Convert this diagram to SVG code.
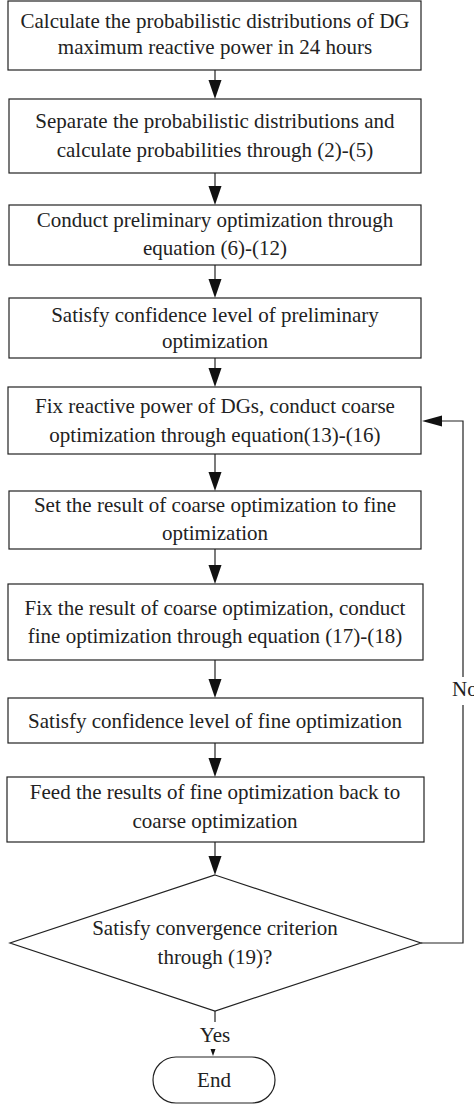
<svg xmlns="http://www.w3.org/2000/svg" width="474" height="1105" viewBox="0 0 474 1105">
<defs>
<style>
.box{fill:#fff;stroke:#222;stroke-width:1.2}
.t{font-family:'Liberation Serif','Times New Roman',serif;font-size:21px;fill:#222;text-anchor:middle}
.ln{fill:none;stroke:#222;stroke-width:1.2}
.ah{fill:#111}
</style>
</defs>
<rect width="474" height="1105" fill="#fff"/>
<g id="connectors">
<line class="ln" x1="215" y1="70" x2="215" y2="85"/><polygon class="ah" points="208.5,80 221.5,80 215,99"/>
<line class="ln" x1="215" y1="173" x2="215" y2="190"/><polygon class="ah" points="208.5,186 221.5,186 215,205"/>
<line class="ln" x1="215" y1="265" x2="215" y2="282"/><polygon class="ah" points="208.5,279 221.5,279 215,298"/>
<line class="ln" x1="215" y1="358" x2="215" y2="372"/><polygon class="ah" points="208.5,368 221.5,368 215,387"/>
<line class="ln" x1="215" y1="454" x2="215" y2="475"/><polygon class="ah" points="208.5,472 221.5,472 215,491"/>
<line class="ln" x1="215" y1="549" x2="215" y2="570"/><polygon class="ah" points="208.5,565 221.5,565 215,584"/>
<line class="ln" x1="215" y1="660" x2="215" y2="682"/><polygon class="ah" points="208.5,679 221.5,679 215,698"/>
<line class="ln" x1="215" y1="743" x2="215" y2="762"/><polygon class="ah" points="208.5,758 221.5,758 215,777"/>
<line class="ln" x1="215" y1="842" x2="215" y2="860"/><polygon class="ah" points="208.5,856 221.5,856 215,875"/>
<polyline class="ln" points="421,943 463,943 463,705"/>
<polyline class="ln" points="463,677 463,421 440,421"/>
<polygon class="ah" points="422,421 442,415.5 442,426.5"/>
<text class="t" x="452" y="696" style="text-anchor:start">No</text>
<line class="ln" x1="215" y1="1011" x2="215" y2="1022"/>
<text class="t" x="215" y="1042">Yes</text>
<polygon class="ah" points="210.5,1049 215.5,1049 213,1056"/>
</g>
<g id="n1"><rect class="box" x="8" y="1" width="413" height="69"/>
<text class="t" x="215" y="28">Calculate the probabilistic distributions of DG</text>
<text class="t" x="215" y="54">maximum reactive power in 24 hours</text></g>
<g id="n2"><rect class="box" x="9" y="99" width="412" height="74"/>
<text class="t" x="215" y="128">Separate the probabilistic distributions and</text>
<text class="t" x="215" y="157">calculate probabilities through (2)-(5)</text></g>
<g id="n3"><rect class="box" x="9" y="205" width="412" height="60"/>
<text class="t" x="215" y="227">Conduct preliminary optimization through</text>
<text class="t" x="215" y="255">equation (6)-(12)</text></g>
<g id="n4"><rect class="box" x="9" y="298" width="412" height="60"/>
<text class="t" x="215" y="322">Satisfy confidence level of preliminary</text>
<text class="t" x="215" y="348">optimization</text></g>
<g id="n5"><rect class="box" x="8" y="387" width="413" height="67"/>
<text class="t" x="215" y="413">Fix reactive power of DGs, conduct coarse</text>
<text class="t" x="215" y="442">optimization through equation(13)-(16)</text></g>
<g id="n6"><rect class="box" x="9" y="491" width="412" height="58"/>
<text class="t" x="215" y="512">Set the result of coarse optimization to fine</text>
<text class="t" x="215" y="540">optimization</text></g>
<g id="n7"><rect class="box" x="8" y="584" width="415" height="76"/>
<text class="t" x="215" y="615">Fix the result of coarse optimization, conduct</text>
<text class="t" x="215" y="643">fine optimization through equation (17)-(18)</text></g>
<g id="n8"><rect class="box" x="8" y="698" width="415" height="45"/>
<text class="t" x="215" y="728">Satisfy confidence level of fine optimization</text></g>
<g id="n9"><rect class="box" x="7" y="777" width="417" height="65"/>
<text class="t" x="215" y="799">Feed the results of fine optimization back to</text>
<text class="t" x="215" y="828">coarse optimization</text></g>
<g id="n10"><polygon class="box" points="215,875 421,943 215,1011 10,943"/>
<text class="t" x="215" y="935">Satisfy convergence criterion</text>
<text class="t" x="215" y="964">through (19)?</text></g>
<g id="n11"><rect class="box" x="153" y="1057" width="122" height="46" rx="23" ry="23"/>
<text class="t" x="214" y="1087">End</text></g>
</svg>
